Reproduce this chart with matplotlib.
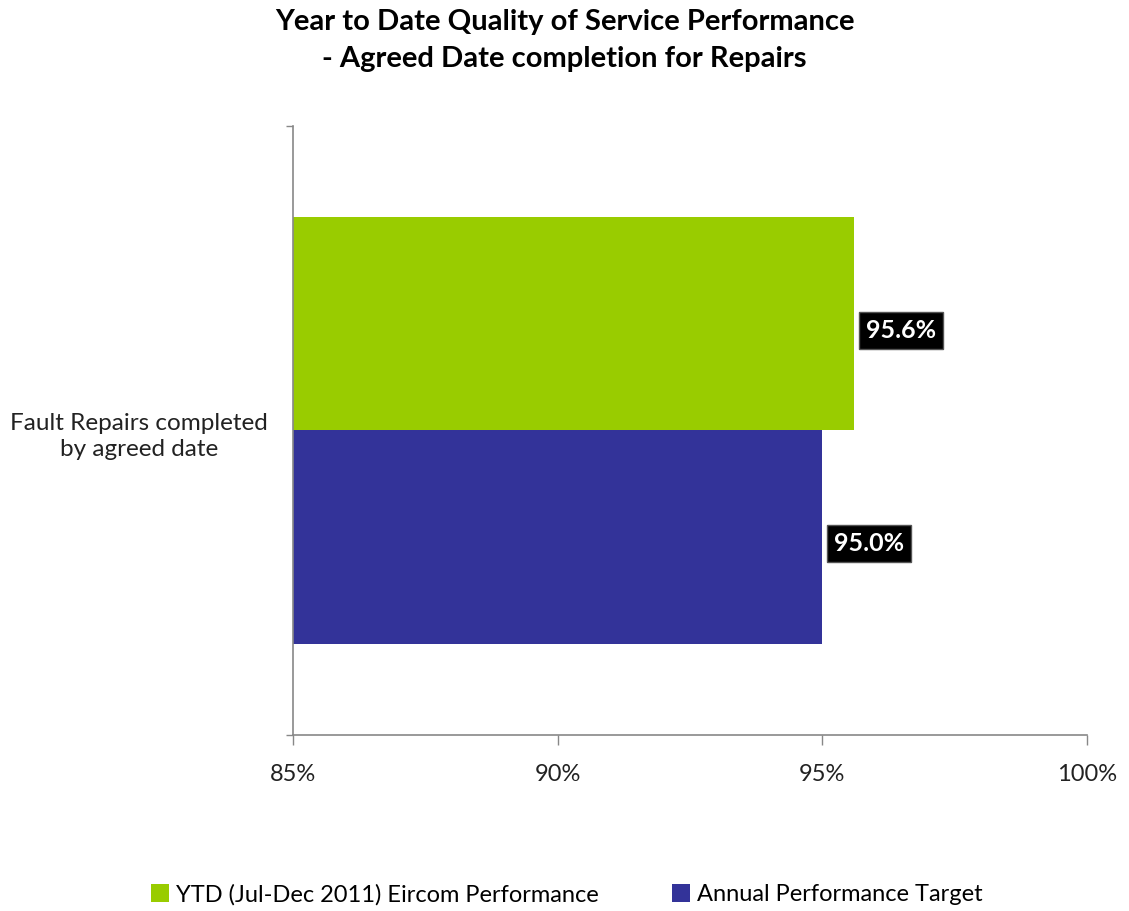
import matplotlib as mpl
import matplotlib.pyplot as plt
from matplotlib.patches import Patch

mpl.rcParams['font.family'] = ['Lato', 'DejaVu Sans']

# chart data
category = 'Fault Repairs completed\nby agreed date'
series = ['YTD (Jul-Dec 2011) Eircom Performance', 'Annual Performance Target']
values = [95.6, 95.0]
colors = ['#99cc00', '#333399']
xticks = [85, 90, 95, 100]
title = 'Year to Date Quality of Service Performance\n- Agreed Date completion for Repairs'

fig = plt.figure(figsize=(11.29, 9.11), dpi=100)
ax = fig.add_axes([0.2595, 0.1932, 0.7033, 0.6685])

h = 0.35
offsets = [h / 2, -h / 2]
for v, c, off in zip(values, colors, offsets):
    ax.barh(off, v - xticks[0], left=xticks[0], height=h, color=c)
    ax.text(v + 0.22, off - 0.01, f'{v:.1f}%', color='white', fontsize=18,
            fontweight='bold', va='center', ha='left',
            bbox=dict(facecolor='black', edgecolor='#555555', pad=5))

ax.set_xlim(xticks[0], xticks[-1])
ax.set_ylim(-0.5, 0.5)
ax.set_xticks(xticks)
ax.set_xticklabels([f'{t}%' for t in xticks], fontsize=17, color='#222222')
ax.set_yticks([-0.5, 0.5])
ax.set_yticklabels(['', ''])
ax.tick_params(axis='x', length=7, width=1, color='#888888', pad=14)
ax.tick_params(axis='y', length=5, width=1, color='#888888')
for s in ['top', 'right']:
    ax.spines[s].set_visible(False)
for s in ['left', 'bottom']:
    ax.spines[s].set_color('#888888')
    ax.spines[s].set_linewidth(1.2)

ax.text(-0.032, 0.49, category, transform=ax.transAxes, ha='right', va='center',
        multialignment='center', fontsize=17.5, color='#222222',
        linespacing=1.3)

fig.text(0.5, 0.99, title, ha='center', va='top', fontsize=21,
         fontweight='bold', linespacing=1.5)

handles = [Patch(facecolor=c, edgecolor='none') for c in colors]
fig.legend(handles, series, loc='lower center', bbox_to_anchor=(0.502, -0.017),
           ncol=2, frameon=False, fontsize=17, handlelength=0.75,
           handleheight=0.75, handletextpad=0.3, columnspacing=3.1)

fig.savefig('out.png', dpi=100)
